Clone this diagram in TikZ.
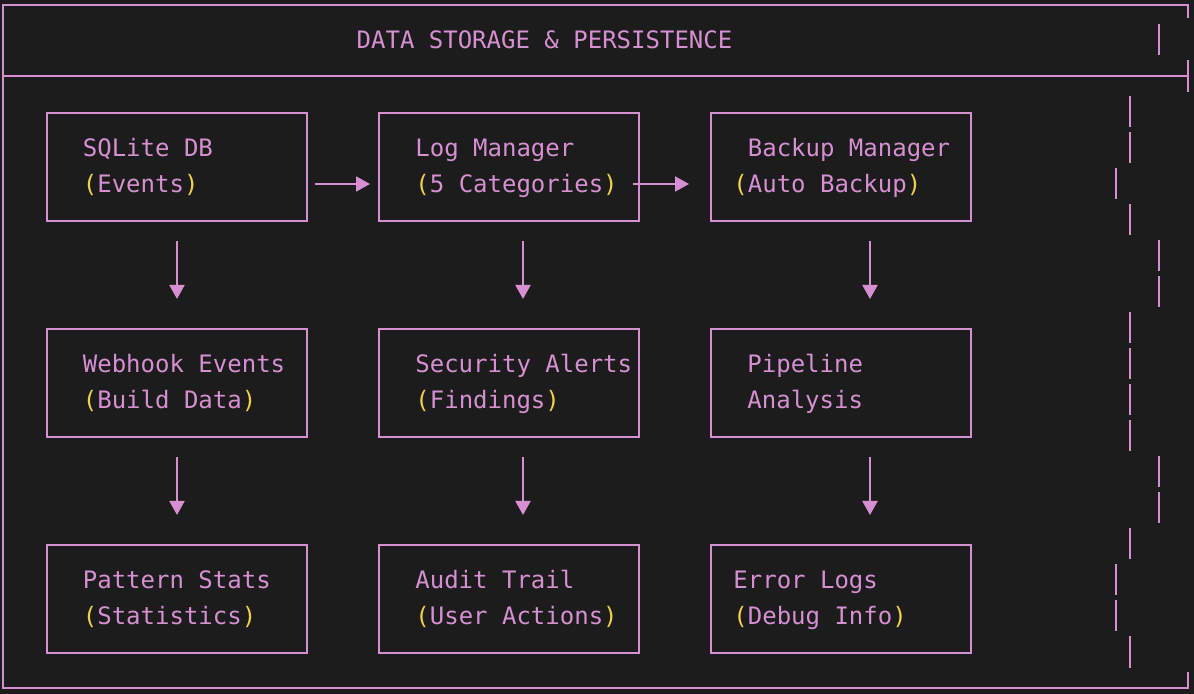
\documentclass[tikz,border=0pt]{standalone}
\usepackage{fontspec}
\setmainfont{DejaVu Sans Mono}
\usetikzlibrary{arrows.meta}
\definecolor{bg}{HTML}{1C1C1C}
\definecolor{ink}{HTML}{D690D2}
\definecolor{gold}{HTML}{F2D14A}
\newcommand{\yparen}[1]{{\color{gold}(}#1{\color{gold})}}
\tikzset{
  frame/.style={draw=ink, line width=1pt},
  cell/.style={frame, minimum width=130pt, minimum height=54pt, inner sep=0pt},
  lbl/.style={text=ink, align=left, inner sep=0pt, anchor=west, yshift=-2pt,
    font={\fontsize{12}{18}\selectfont},
    execute at begin node=\strut, execute at end node=\strut},
  heading/.style={text=ink, inner sep=0pt, font={\fontsize{12}{18}\selectfont}},
  flow/.style={draw=ink, line width=1pt, -{Triangle[width=7.5pt,length=7pt]}},
}
\begin{document}
\begin{tikzpicture}[x=0.5pt, y=-0.5pt]
    \fill[bg] (0,0) rectangle (1194,694);
    \useasboundingbox (0,0) rectangle (1194,694);

    % outer frame and title bar
    \draw[frame] (1188,18) -- (1188,5) -- (3,5) -- (3,688) -- (1188,688) -- (1188,672);
    \draw[frame] (3,76) -- (1188,76) (1188,60) -- (1188,92);
    \node[heading] (heading) at (544.5,40) {DATA STORAGE \& PERSISTENCE};

    % ragged right edge
    \foreach \x/\r in {
        1159/1, 1130/3, 1130/4, 1116/5, 1130/6, 1159/7, 1159/8,
        1130/9, 1130/10, 1130/11, 1130/12, 1159/13, 1159/14,
        1130/15, 1116/16, 1116/17, 1130/18} {
        \draw[frame] (\x,{36*\r-11.5}) -- (\x,{36*\r+19.5});
    }

    \foreach \x/\y/\name in {
        176.5/167/sqlite,  509/167/logmgr, 841/167/backup,
        176.5/383/webhook, 509/383/alerts, 841/383/pipeline,
        176.5/599/stats,   509/599/audit,  841/599/errlogs} {
        \node[cell] (\name) at (\x, \y) {};
    }
    \foreach \name/\dx/\txt in {
        sqlite/37/{SQLite DB\\\yparen{Events}},
        logmgr/37/{Log Manager\\\yparen{5 Categories}},
        backup/23/{\hphantom{(}Backup Manager\\\yparen{Auto Backup}},
        webhook/37/{Webhook Events\\\yparen{Build Data}},
        alerts/37/{Security Alerts\\\yparen{Findings}},
        pipeline/37/{Pipeline\\Analysis},
        stats/37/{Pattern Stats\\\yparen{Statistics}},
        audit/37/{Audit Trail\\\yparen{User Actions}},
        errlogs/23/{Error Logs\\\yparen{Debug Info}}} {
        \node[lbl] (\name-txt) at ([xshift=\dx*0.5pt]\name.west) {\txt};
    }

    \draw[flow, shorten <=3.5pt, shorten >=4pt] ([yshift=-8.5pt]sqlite.east) -- ([yshift=-8.5pt]logmgr.west);
    \draw[flow, shorten <=-3.5pt, shorten >=10.5pt] ([yshift=-8.5pt]logmgr.east) -- ([yshift=-8.5pt]backup.west);
    \foreach \a/\b/\dx in {
        sqlite/webhook/0.5, logmgr/alerts/14, backup/pipeline/29,
        webhook/stats/0.5,  alerts/audit/14,  pipeline/errlogs/29} {
        \draw[flow, shorten <=9.5pt, shorten >=14.5pt] ([xshift=\dx*0.5pt]\a.south) -- ([xshift=\dx*0.5pt]\b.north);
    }
\end{tikzpicture}
\end{document}
